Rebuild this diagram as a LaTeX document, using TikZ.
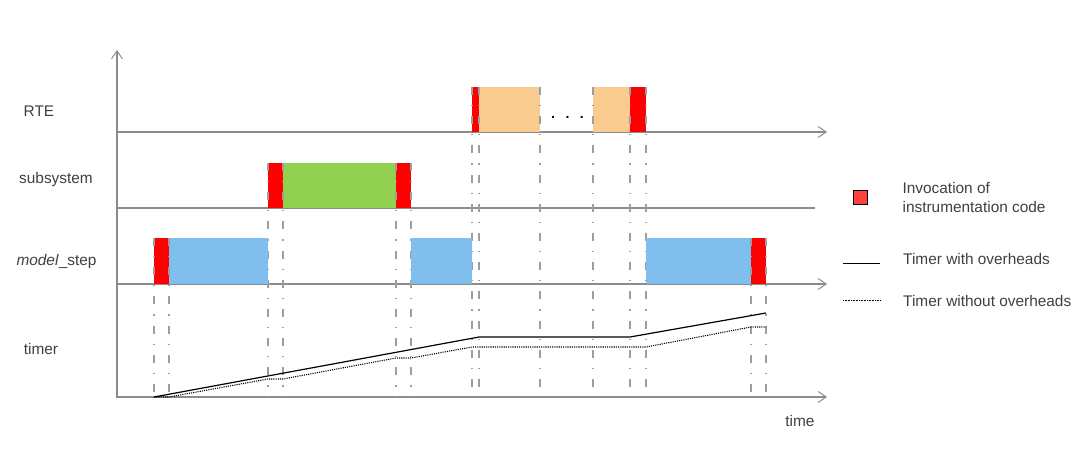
\documentclass[tikz,border=0pt]{standalone}
\usepackage{fontspec}
\setmainfont{Liberation Sans}
\usetikzlibrary{arrows.meta}
\usetikzlibrary{positioning}

\definecolor{instrred}{HTML}{FF0000}
\definecolor{legred}{HTML}{FF4040}
\definecolor{rtecol}{HTML}{F9CB8F}
\definecolor{subcol}{HTML}{92D050}
\definecolor{modelcol}{HTML}{80BEEE}
\definecolor{axiscol}{HTML}{8C8C8C}
\definecolor{textcol}{HTML}{404040}

\tikzset{
  axis/.style={draw=axiscol, line width=1.3pt},
  axisarrow/.style={axis, -{Straight Barb[length=8pt,width=11pt,line width=1pt]}},
  marker/.style={draw=axiscol!85, line width=1.1pt, dash pattern=on 8pt off 10pt on 1.2pt off 10pt},
  lbl/.style={text=textcol, font=\fontsize{15.4}{19}\selectfont, inner sep=0pt},
  withover/.style={draw=black, line width=1.2pt},
  noover/.style={draw=black, line width=1.1pt, dash pattern=on 1.1pt off 1.1pt},
}

\begin{document}
\begin{tikzpicture}[x=1pt, y=-1pt]
  \useasboundingbox (0,0) rectangle (1082,458);

 %axes
  \def\xo{117};
  \def\tb{397};
  \draw[axisarrow] (\xo,398) -- (\xo,50);
  \draw[axisarrow] (\xo,132) -- (827,132);
  \draw[axis] (\xo,208) -- (815,208);
  \draw[axisarrow] (\xo,284) -- (827,284);
  \draw[axisarrow] (\xo,\tb) -- (827,\tb);

 %row RTE
  \def\dy{132};
  \def\h{45};
  \foreach \a/\b/\col in {472/479/instrred, 479/540/rtecol, 593/630/rtecol, 630/646/instrred} {
      \fill[\col] (\a,\dy) rectangle (\b,\dy-\h);
  }
  \foreach \x in {472,479,540,593,630,646} {
      \draw[marker] (\x,\dy-\h) -- (\x,\tb);
  }
  \node[lbl, font=\fontsize{14}{19}\selectfont\bfseries, text=black] (dots) at (567.5,117) {.\hspace{10.5pt}.\hspace{10.5pt}.};

 %row subsystem
  \def\dy{208};
  \def\h{45};
  \foreach \a/\b/\col in {268/283/instrred, 283/396/subcol, 396/411/instrred} {
      \fill[\col] (\a,\dy) rectangle (\b,\dy-\h);
  }
  \foreach \x in {268,283,396,411} {
      \draw[marker] (\x,\dy-\h) -- (\x,\tb);
  }

 %row model_step
  \def\dy{284};
  \def\h{46};
  \foreach \a/\b/\col in {154/169/instrred, 169/268/modelcol, 411/472/modelcol, 646/751/modelcol, 751/766/instrred} {
      \fill[\col] (\a,\dy) rectangle (\b,\dy-\h);
  }
  \foreach \x in {154,169,751,766} {
      \draw[marker] (\x,\dy-\h) -- (\x,\tb);
  }

 %timer
  \draw[withover] (154,\tb) -- (479,337) -- (630,337) -- (766,313);
  \draw[noover] (154,\tb) -- (169,\tb) -- (268,379) -- (283,379) -- (396,358) -- (411,358)
        -- (472,347) -- (646,347) -- (751,327) -- (766,327);

 %row labels
  \node[lbl] (rte) at (39,111) {RTE};
  \node[lbl] (subsys) at (56,180) {subsystem};
  \node[lbl] (modelstep) at (56.5,262) {\textit{model}\_step};
  \node[lbl] (timerlbl) at (41,349) {timer};
  \node[lbl] (timelbl) at (800,421) {time};

 %legend
  \node[draw=black, fill=legred, minimum size=14pt, inner sep=0pt, line width=0.8pt] (legbox) at (860,197) {};
  \node[lbl, align=left, anchor=west, right=35pt of legbox.east] (leginv) {Invocation of\\instrumentation code};
  \coordinate (solidA) at (843,263);
  \coordinate (solidB) at (880,263);
  \draw[black, line width=0.9pt] (solidA) -- (solidB);
  \node[lbl, anchor=west] (legwith) at (903,259) {Timer with overheads};
  \coordinate (dotA) at (843,300);
  \coordinate (dotB) at (880,300);
  \draw[black, line width=0.8pt, dash pattern=on 0.8pt off 0.8pt] (dotA) -- (dotB);
  \node[lbl, anchor=west] (legwithout) at (903,301) {Timer without overheads};

\end{tikzpicture}
\end{document}
